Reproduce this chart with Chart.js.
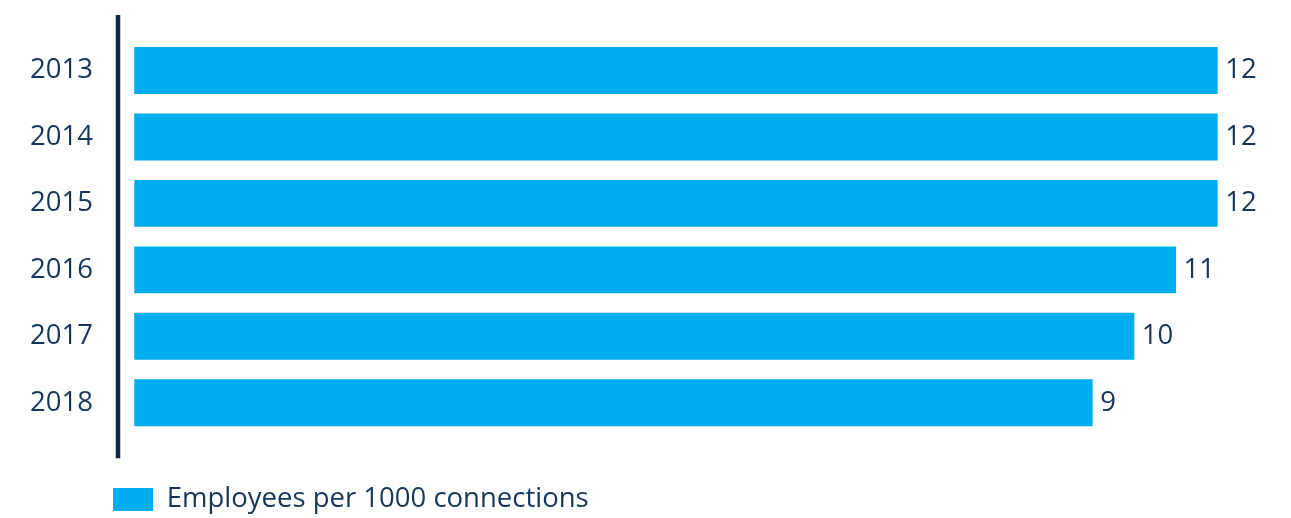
<!DOCTYPE html>
<html>
<head>
<meta charset="utf-8">
<script src="https://cdn.jsdelivr.net/npm/chart.js@4/dist/chart.umd.min.js"></script>
<style>
  html, body { margin: 0; padding: 0; background: #ffffff; }
  #wrap { width: 1291px; height: 518px; position: relative; }
</style>
</head>
<body>
<div id="wrap"><canvas id="c"></canvas></div>
<script>
const categories = ['2013', '2014', '2015', '2016', '2017', '2018'];
const employeesPer1000 = [12, 12, 12, 11, 10, 9];
const seriesLabel = 'Employees per 1000 connections';

const TEXT = '#17365a';
const BAR = '#00aeef';
const AXIS = '#0c2a4c';
const FONT = "'Open Sans', 'Noto Sans', sans-serif";
const FS = 27.5;

const axisLinePlugin = {
  id: 'axisLine',
  beforeDatasetsDraw(chart) {
    const { ctx, chartArea } = chart;
    ctx.save();
    ctx.strokeStyle = AXIS;
    ctx.lineWidth = 4.5;
    ctx.beginPath();
    ctx.moveTo(chartArea.left, chartArea.top - 22.3);
    ctx.lineTo(chartArea.left, chartArea.bottom + 22.3);
    ctx.stroke();
    ctx.restore();
  }
};

const valueLabelPlugin = {
  id: 'valueLabels',
  afterDatasetsDraw(chart) {
    const { ctx } = chart;
    ctx.save();
    ctx.font = FS + 'px ' + FONT;
    ctx.fillStyle = TEXT;
    ctx.textAlign = 'left';
    ctx.textBaseline = 'middle';
    chart.data.datasets.forEach((ds, di) => {
      const meta = chart.getDatasetMeta(di);
      meta.data.forEach((bar, i) => {
        ctx.fillText(String(ds.data[i]), bar.x + 7.5, bar.y);
      });
    });
    ctx.restore();
  }
};

const legendShiftPlugin = {
  id: 'legendShift',
  afterLayout(chart) {
    if (chart.legend) {
      const w = chart.legend.right - chart.legend.left;
      chart.legend.left = 103;
      chart.legend.right = 103 + w;
    }
  }
};

new Chart(document.getElementById('c'), {
  type: 'bar',
  data: {
    labels: categories,
    datasets: [{
      label: seriesLabel,
      data: employeesPer1000,
      backgroundColor: BAR,
      borderWidth: 0,
      base: -14,
      categoryPercentage: 1,
      barPercentage: 0.705
    }]
  },
  options: {
    indexAxis: 'y',
    responsive: true,
    maintainAspectRatio: false,
    animation: false,
    devicePixelRatio: 1,
    layout: { padding: { top: 37.3, right: 0, bottom: -5.25, left: 0 } },
    scales: {
      x: {
        type: 'linear',
        position: 'bottom',
        min: -14.39,
        max: 13.76,
        display: true,
        grid: { display: false, drawTicks: false },
        border: { display: false },
        ticks: { display: false },
        afterFit(scale) { scale.height = 39.8; }
      },
      y: {
        type: 'category',
        position: 'left',
        offset: true,
        grid: { display: false, drawTicks: false },
        border: { display: false },
        ticks: {
          color: TEXT,
          font: { family: FONT, size: FS },
          padding: 25
        },
        afterFit(scale) {
          scale.width = 118;
          scale.paddingTop = 0;
          scale.paddingBottom = 0;
        }
      }
    },
    plugins: {
      legend: {
        display: true,
        position: 'bottom',
        align: 'start',
        labels: {
          boxWidth: 40,
          boxHeight: 23,
          padding: 10,
          color: TEXT,
          font: { family: FONT, size: FS }
        }
      },
      tooltip: { enabled: false }
    }
  },
  plugins: [axisLinePlugin, valueLabelPlugin, legendShiftPlugin]
});
</script>
</body>
</html>
